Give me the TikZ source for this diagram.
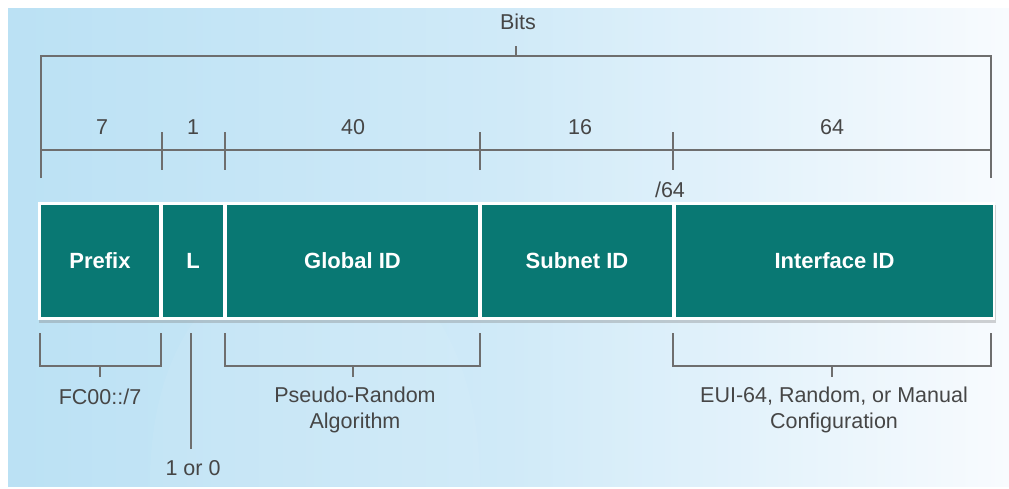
\documentclass[tikz,border=0pt]{standalone}
\usepackage{fontspec}
\setmainfont{Liberation Sans}
\usetikzlibrary{shadows}
\definecolor{teal1}{RGB}{9,120,115}
\definecolor{linec}{RGB}{110,110,110}
\definecolor{txtc}{RGB}{70,70,70}
\definecolor{bgl}{RGB}{187,225,244}
\definecolor{bgm}{RGB}{208,234,248}
\definecolor{bgr}{RGB}{248,251,254}
\begin{document}
\begin{tikzpicture}[x=1pt,y=-1pt,
  cell/.style={fill=teal1,text=white,font=\fontsize{22}{26}\selectfont\bfseries,minimum height=112pt,inner sep=0pt,anchor=center},
  lbl/.style={text=txtc,font=\fontsize{21.5}{26}\selectfont,inner sep=0pt,align=center},
  ln/.style={draw=linec,line width=2pt}]
\useasboundingbox (0,0) rectangle (1009,488);
\fill[white] (0,0) rectangle (1009,488);
\shade[left color=bgl,right color=bgr,middle color=bgm] (8,8) rectangle (1009,486);
\fill[white,opacity=0.06] (150,486) .. controls (150,300) and (260,250) .. (330,250) .. controls (400,250) and (480,330) .. (480,486) -- cycle;
% top labels
\node[lbl] (bits) at (518,22) {Bits};
\node[lbl] (n7) at (102,127) {7};
\node[lbl] (n1) at (193,127) {1};
\node[lbl] (n40) at (353,127) {40};
\node[lbl] (n16) at (580,127) {16};
\node[lbl] (n64) at (832,127) {64};
\node[lbl] (s64) at (670,190) {/64};
% coordinates of the scales
\coordinate (tl) at (41,56); \coordinate (tr) at (991,56);
\coordinate (tlb) at (41,178); \coordinate (trb) at (991,178);
\coordinate (tc) at (516,56); \coordinate (tct) at (516,46);
\coordinate (sl) at (41,150); \coordinate (sr) at (991,150);
\draw[ln] (tlb) -- (tl) -- (tr) -- (trb);
\draw[ln] (tc) -- (tct);
\draw[ln] (sl) -- (sr);
\foreach \x in {162,225,480,673} \draw[ln] (\x,132) -- (\x,170);
% main bar
\fill[white,drop shadow={shadow xshift=1pt,shadow yshift=-3pt,opacity=0.35}] (38,202) rectangle (995,320);
\node[cell,minimum width=118pt] (prefix) at (100,261) {Prefix};
\node[cell,minimum width=60pt] (L) at (193,261) {L};
\node[cell,minimum width=251pt] (global) at (352.5,261) {Global ID};
\node[cell,minimum width=190pt] (subnet) at (577,261) {Subnet ID};
\node[cell,minimum width=317pt] (iface) at (834.5,261) {Interface ID};
% bottom brackets
\draw[ln] (40,333) -- (40,366) -- (161,366) -- (161,333);
\draw[ln] (100,366) -- (100,377);
\node[lbl] (fc) at (100,397) {FC00::/7};
\draw[ln] (191,333) -- (191,449);
\node[lbl] (lo) at (193,468) {1 or 0};
\draw[ln] (225,333) -- (225,366) -- (480,366) -- (480,333);
\draw[ln] (353,366) -- (353,377);
\node[lbl] (pr) at (355,410) {Pseudo-Random\\Algorithm};
\draw[ln] (673,333) -- (673,366) -- (991,366) -- (991,333);
\draw[ln] (832,366) -- (832,377);
\node[lbl] (eui) at (834,410) {EUI-64, Random, or Manual\\Configuration};
\end{tikzpicture}
\end{document}
